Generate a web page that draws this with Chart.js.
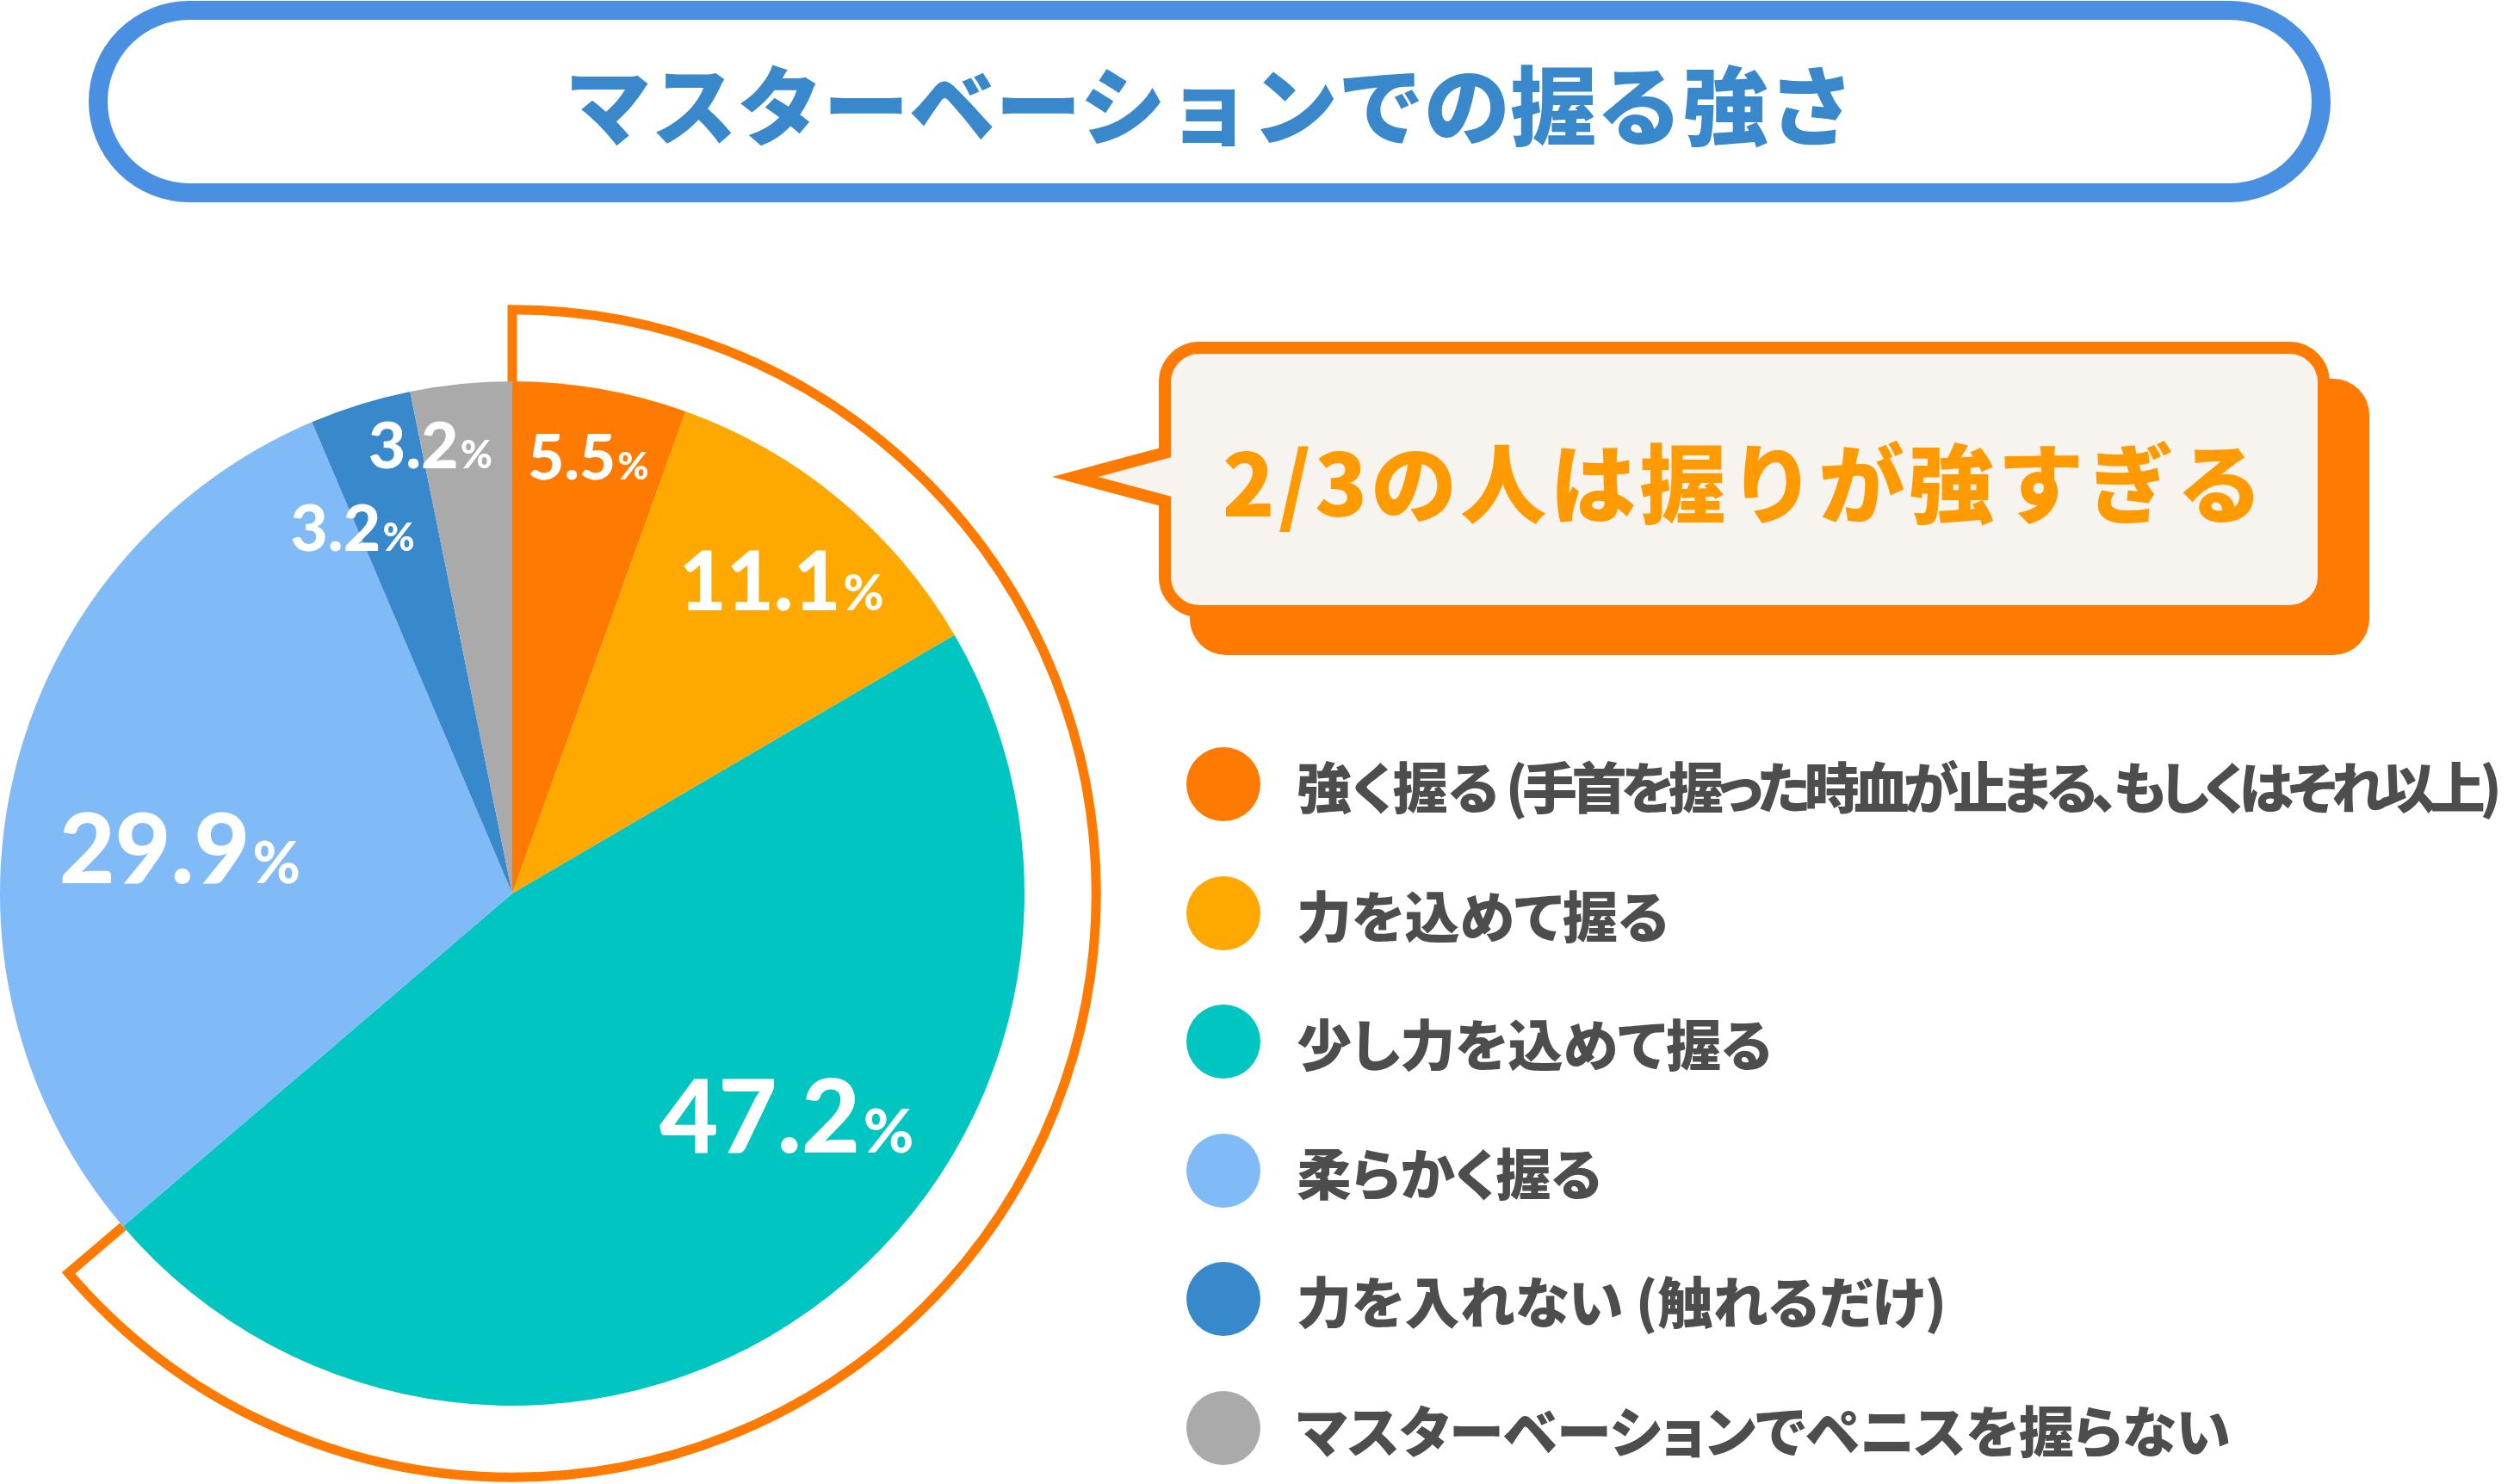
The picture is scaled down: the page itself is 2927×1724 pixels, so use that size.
<!DOCTYPE html>
<html lang="ja">
<head>
<meta charset="utf-8">
<title>マスターベーションでの握る強さ</title>
<script src="https://cdn.jsdelivr.net/npm/chart.js@4.4.1/dist/chart.umd.min.js"></script>
<style>
  html, body { margin: 0; padding: 0; background: #fff; }
  body { width: 2927px; height: 1724px; position: relative; overflow: hidden; font-family: "Noto Sans CJK JP", sans-serif; }
  #titleBox { position: absolute; left: 103px; top: 1px; width: 2604px; height: 234px; box-sizing: border-box;
    border: 22px solid #4A90E2; border-radius: 117px; display: flex; align-items: center; justify-content: center; }
  #titleBox h1 { margin: 0; font-size: 100px; font-weight: 900; color: #3A88CC; line-height: 1; }
  #callout { position: absolute; left: 0; top: 0; }
  #calloutText { position: absolute; left: 1353px; top: 404px; width: 1346px; height: 306px; display: flex;
    align-items: center; justify-content: center; font-size: 100px; font-weight: 900; color: #FF9A00;
    letter-spacing: 4px; line-height: 1; white-space: nowrap; }
  #chartWrap { position: absolute; left: 0; top: 0; width: 1380px; height: 1724px; }
  #legend { position: absolute; left: 1378px; top: 0; margin: 0; padding: 0; list-style: none; }
  #legend li { position: absolute; left: 0; height: 86px; display: flex; align-items: center; white-space: nowrap;
    font-size: 64px; font-weight: 900; color: #4D4D4D; font-feature-settings: "palt"; }
  #legend .dot { width: 86px; height: 86px; border-radius: 50%; margin-right: 42px; flex: none; }
  #legend .note { letter-spacing: -6.5px; white-space: pre; }
</style>
</head>
<body>
<div id="titleBox"><h1>マスターベーションでの握る強さ</h1></div>

<svg id="callout" width="2927" height="1724">
  <rect x="1382" y="440" width="1370" height="321" rx="42" fill="#FF7A00"/>
  <path d="M 1393 404 H 2659 A 40 40 0 0 1 2699 444 V 670 A 40 40 0 0 1 2659 710 H 1393 A 40 40 0 0 1 1353 670
           V 582 L 1249 554 L 1353 526 V 444 A 40 40 0 0 1 1393 404 Z"
        fill="#F7F4F0" stroke="#FF7A00" stroke-width="14" stroke-linejoin="miter" stroke-miterlimit="10"/>
</svg>
<div id="calloutText">2/3の人は握りが強すぎる</div>

<div id="chartWrap"><canvas id="pie" width="1380" height="1724"></canvas></div>
<ul id="legend"></ul>

<script>
// answers, clockwise from 12 o'clock
var categories = [
    '強く握る (手首を握った時血が止まる、もしくはそれ以上)',
    '力を込めて握る',
    '少し力を込めて握る',
    '柔らかく握る',
    '力を入れない (触れるだけ)',
    'マスターベーションでペニスを握らない'
];
var shares = [5.5, 11.1, 47.2, 29.9, 3.2, 3.2]; // %
var sliceColors = ['#FF7A00', '#FFA800', '#00C5C0', '#80BBF7', '#3888CC', '#AAAAAA'];

// the first three answers get the orange outline ("2/3")
var strongGripCount = 3;

// label placement inside each slice
var labelRadius = [0.865, 0.805, 0.69, 0.655, 0.78, 0.89];  // fraction of pie radius
var labelShiftDeg = [0, 1, -15.5, -5.5, -6.3, -4.6];       // turn from slice middle
var labelFontPx = [73, 95, 118, 112, 75, 75];

// white percentage numbers, % sign smaller
var sliceLabels = {
    id: 'sliceLabels',
    afterDatasetsDraw: function(chart) {
        var ctx = chart.ctx;
        var arcs = chart.getDatasetMeta(0).data;
        arcs.forEach(function(arc, i) {
            var p = arc.getProps(['x', 'y', 'startAngle', 'endAngle', 'outerRadius'], true);
            var a = (p.startAngle + p.endAngle) / 2 + labelShiftDeg[i] * Math.PI / 180;
            var r = p.outerRadius * labelRadius[i];
            var cx = p.x + Math.cos(a) * r;
            var cy = p.y + Math.sin(a) * r;
            var num = shares[i].toFixed(1);
            var big = labelFontPx[i];
            var small = Math.round(big * 0.6);
            ctx.save();
            ctx.fillStyle = '#ffffff';
            ctx.textBaseline = 'alphabetic';
            ctx.textAlign = 'left';
            ctx.font = '900 ' + big + 'px Lato';
            var w1 = ctx.measureText(num).width;
            ctx.font = '900 ' + small + 'px Lato';
            var w2 = ctx.measureText('%').width;
            var gap = big * 0.03;
            var x0 = cx - (w1 + gap + w2) / 2;
            var base = cy + big * 0.72 / 2;
            ctx.font = '900 ' + big + 'px Lato';
            ctx.fillText(num, x0, base);
            ctx.font = '900 ' + small + 'px Lato';
            ctx.fillText('%', x0 + w1 + gap, base);
            ctx.restore();
        });
    }
};

// orange outline around the "strong grip" slices
var strongOutline = {
    id: 'strongOutline',
    afterDraw: function(chart) {
        var arcs = chart.getDatasetMeta(0).data;
        var first = arcs[0].getProps(['x', 'y', 'startAngle', 'outerRadius'], true);
        var last = arcs[strongGripCount - 1].getProps(['endAngle'], true);
        var r0 = first.outerRadius;
        var r1 = r0 * 1.14;
        var s = first.startAngle, e = last.endAngle;
        var ctx = chart.ctx;
        ctx.save();
        ctx.strokeStyle = '#FF7A00';
        ctx.lineWidth = 11;
        ctx.lineJoin = 'miter';
        ctx.beginPath();
        ctx.moveTo(first.x + Math.cos(s) * r0, first.y + Math.sin(s) * r0);
        ctx.lineTo(first.x + Math.cos(s) * r1, first.y + Math.sin(s) * r1);
        ctx.arc(first.x, first.y, r1, s, e);
        ctx.lineTo(first.x + Math.cos(e) * r0, first.y + Math.sin(e) * r0);
        ctx.stroke();
        ctx.restore();
    }
};

function buildLegend() {
    var ul = document.getElementById('legend');
    categories.forEach(function(name, i) {
        var li = document.createElement('li');
        li.style.top = (868 + i * 149.5) + 'px';
        var dot = document.createElement('span');
        dot.className = 'dot';
        dot.style.background = sliceColors[i];
        li.appendChild(dot);
        // long notes in brackets are set a bit tighter
        var cut = name.indexOf(' (');
        if (cut > 0 && name.length > 20) {
            li.appendChild(document.createTextNode(name.slice(0, cut)));
            var note = document.createElement('span');
            note.className = 'note';
            note.textContent = name.slice(cut);
            li.appendChild(note);
        } else {
            li.appendChild(document.createTextNode(name));
        }
        ul.appendChild(li);
    });
}

function draw() {
    var ctx = document.getElementById('pie').getContext('2d');
    new Chart(ctx, {
        type: 'pie',
        data: {
            labels: categories,
            datasets: [{
                data: shares,
                backgroundColor: sliceColors,
                borderWidth: 0
            }]
        },
        options: {
            responsive: false,
            devicePixelRatio: 1,
            animation: false,
            events: [],
            layout: { padding: { left: 0, top: 443, right: 190, bottom: 91 } },
            plugins: {
                legend: { display: false },
                tooltip: { enabled: false }
            }
        },
        plugins: [sliceLabels, strongOutline]
    });
    buildLegend();
}

document.fonts.load('900 100px Lato').then(draw, draw);
</script>
</body>
</html>
